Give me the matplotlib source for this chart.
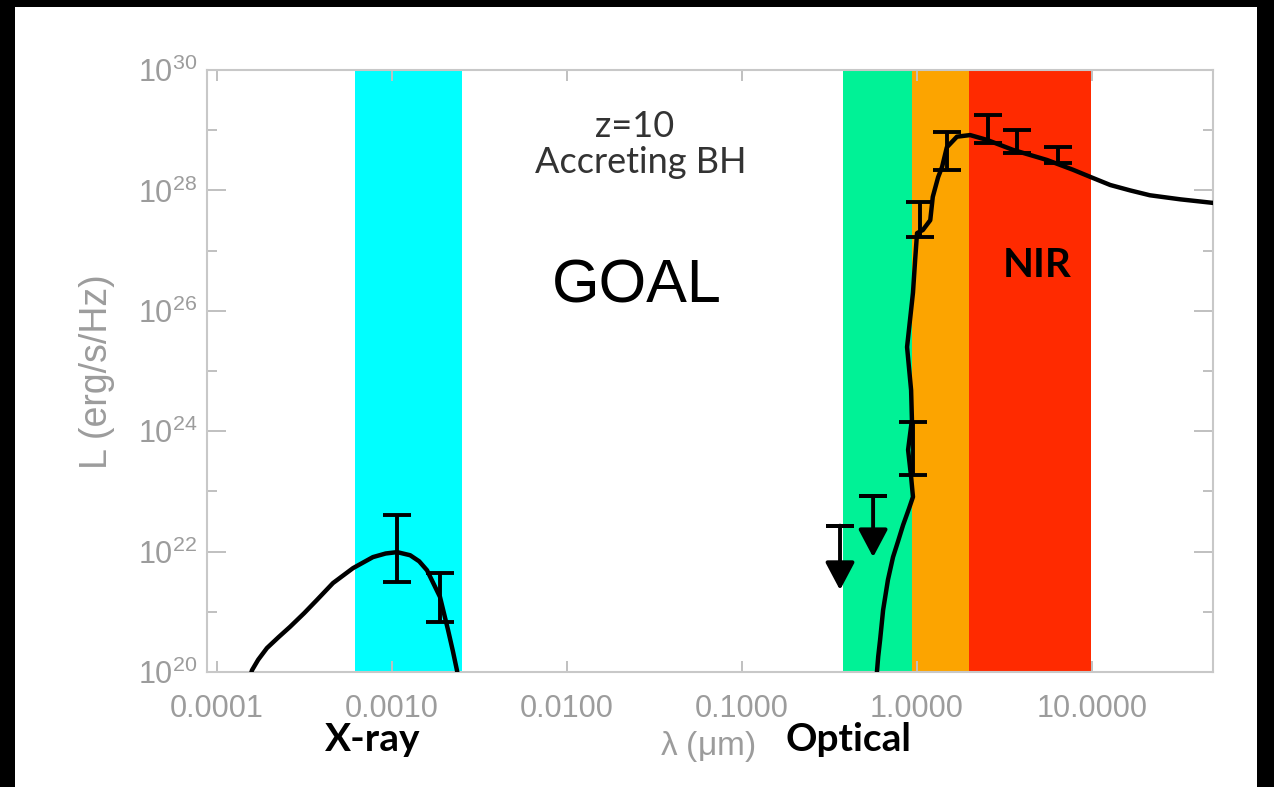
import numpy as np
import matplotlib
matplotlib.use("Agg")
import matplotlib.pyplot as plt
from matplotlib import patches, ticker

plt.rcParams['font.family'] = ['Liberation Sans', 'DejaVu Sans']
plt.rcParams['mathtext.default'] = 'regular'

# bands (wavelength in micron)
band_edges = [(6.15e-4, 2.51e-3), (0.38, 0.935), (0.935, 1.98), (1.98, 9.84)]
band_colors = ['#00ffff', '#00f296', '#fca400', '#ff2a00']

# model SED, X-ray part
xray_wl = [1.55e-4, 1.585e-4, 1.72e-4, 1.93e-4, 2.25e-4, 2.61e-4, 3.15e-4, 3.73e-4,
           4.60e-4, 5.98e-4, 7.78e-4, 9.2e-4, 1.07e-3, 1.27e-3, 1.43e-3, 1.585e-3,
           1.88e-3, 2.09e-3, 2.23e-3, 2.35e-3, 2.38e-3]
xray_L = [8.5e19, 1.07e20, 1.6e20, 2.5e20, 3.8e20, 5.6e20, 9.5e20, 1.58e21,
          3.0e21, 5.3e21, 8.1e21, 9.3e21, 9.8e21, 8.7e21, 6.9e21, 4.9e21,
          1.77e21, 5.0e20, 2.2e20, 1.07e20, 8.5e19]

# model SED, optical / NIR part
opt_wl = [0.585, 0.59, 0.60, 0.615, 0.640, 0.682, 0.729, 0.78, 0.832, 0.90, 0.948, 0.925,
          0.889, 0.935, 0.925, 0.877, 0.912, 0.948, 0.975, 1.0, 1.08, 1.19, 1.23, 1.32,
          1.39, 1.48, 1.69, 2.01, 2.51, 3.54, 5.53, 7.79, 9.9, 12.7, 16.5, 21.4, 32.0,
          49.1, 55.0]
opt_L = [8e19, 1.0e20, 1.8e20, 3.4e20, 1.07e21, 3.4e21, 8.1e21, 1.5e22, 2.75e22,
         5.2e22, 8.1e22, 1.74e23, 4.9e23, 1.55e24, 4.8e24, 2.5e25, 7.1e25, 2.0e26,
         6.9e26, 1.95e27, 2.2e27, 3.2e27, 7.8e27, 1.66e28, 2.45e28, 5.2e28, 7.8e28,
         8.3e28, 6.9e28, 4.7e28, 3.2e28, 2.2e28, 1.65e28, 1.23e28, 1.0e28, 8.3e27,
         7.1e27, 6.2e27, 6.0e27]

# detections: wavelength, lower, upper
det_wl = [1.07e-3, 1.88e-3, 0.948, 1.04, 1.48, 2.55, 3.73, 6.39]
det_lo = [3.1e21, 6.8e20, 1.9e23, 1.7e27, 2.2e28, 6.2e28, 4.2e28, 2.9e28]
det_hi = [4.1e22, 4.4e21, 1.4e24, 6.4e27, 9.3e28, 1.8e29, 1.0e29, 5.2e28]

# upper limits: wavelength, limit, arrow tip
lim_wl = [0.363, 0.561]
lim_L = [2.7e22, 8.4e22]
lim_tip = [2.3e21, 8.1e21]

yticks = [1e20, 1e22, 1e24, 1e26, 1e28, 1e30]
ytick_labels = [r'10$^{20}$', r'10$^{22}$', r'10$^{24}$', r'10$^{26}$', r'10$^{28}$', r'10$^{30}$']
xticks = [1e-4, 1e-3, 1e-2, 1e-1, 1, 10]
xtick_labels = ['0.0001', '0.0010', '0.0100', '0.1000', '1.0000', '10.0000']

W, H = 1274, 787
fig = plt.figure(figsize=(W / 100, H / 100), dpi=100)
ax = fig.add_axes([207 / W, 1 - 672 / H, (1213 - 207) / W, (672 - 70) / H])

for (lo, hi), c in zip(band_edges, band_colors):
    ax.axvspan(lo, hi, color=c, lw=0, zorder=0)

ax.plot(xray_wl, xray_L, color='k', lw=3.2, zorder=3, solid_joinstyle='round')
ax.plot(opt_wl, opt_L, color='k', lw=3.2, zorder=3, solid_joinstyle='round')

det_mid = np.sqrt(np.array(det_lo) * np.array(det_hi))
ax.errorbar(det_wl, det_mid, yerr=[det_mid - np.array(det_lo), np.array(det_hi) - det_mid],
            fmt='none', ecolor='k', elinewidth=2.8, capsize=10, capthick=2.8, zorder=4)

# upper limits: cap + arrow
ax.errorbar(lim_wl, lim_L, yerr=[[0, 0], [0, 0]], fmt='none', ecolor='k',
            capsize=10, capthick=2.8, zorder=4)
for x, top, tip in zip(lim_wl, lim_L, lim_tip):
    ax.annotate('', xy=(x, tip), xytext=(x, top),
                arrowprops=dict(arrowstyle='-|>,head_length=0.85,head_width=0.45',
                                mutation_scale=20, lw=2.8, color='k',
                                shrinkA=0, shrinkB=0), zorder=4)

ax.set_xscale('log')
ax.set_yscale('log')
ax.set_xlim(8.77e-5, 49.1)
ax.set_ylim(1e20, 1e30)

grey = '#9c9c9c'
ax.yaxis.set_major_locator(ticker.FixedLocator(yticks))
ax.yaxis.set_major_formatter(ticker.FixedFormatter(ytick_labels))
ax.yaxis.set_minor_locator(ticker.FixedLocator([1e21, 1e23, 1e25, 1e27, 1e29]))
ax.yaxis.set_minor_formatter(ticker.NullFormatter())
ax.xaxis.set_major_locator(ticker.FixedLocator(xticks))
ax.xaxis.set_major_formatter(ticker.FixedFormatter(xtick_labels))
ax.xaxis.set_minor_locator(ticker.NullLocator())

ax.tick_params(axis='y', which='major', direction='in', length=14, width=1.4,
               color='#c0c0c0', labelcolor=grey, labelsize=22, pad=7, right=True)
ax.tick_params(axis='y', which='minor', direction='in', length=7, width=1.4,
               color='#c0c0c0', right=True)
ax.tick_params(axis='x', which='major', direction='in', length=8, width=1.4,
               color='#c0c0c0', labelcolor=grey, labelsize=22, pad=16, top=True)
for s in ax.spines.values():
    s.set_color('#c8c8c8')
    s.set_linewidth(1.5)

fig.text(97 / W, 1 - 372 / H, 'L (erg/s/Hz)', rotation=90, ha='center', va='center',
         color=grey, fontsize=27)
fig.text(708 / W, 1 - 747 / H, r'λ ($\mu$m)', ha='center', va='center',
         color=grey, fontsize=24)

fig.text(635 / W, 1 - 137 / H, 'z=10', ha='center', va='baseline',
         color='#333333', fontsize=26, family='Lato')
fig.text(641 / W, 1 - 173 / H, 'Accreting BH', ha='center', va='baseline',
         color='#333333', fontsize=26, family='Lato')
fig.text(637 / W, 1 - 303 / H, 'GOAL', ha='center', va='baseline',
         color='black', fontsize=44, family='Liberation Sans')
fig.text(1037 / W, 1 - 277 / H, 'NIR', ha='center', va='baseline',
         color='black', fontsize=29, family='Lato', fontweight='bold')
fig.text(373 / W, 1 - 751 / H, 'X-ray', ha='center', va='baseline',
         color='black', fontsize=28, family='Lato', fontweight='bold')
fig.text(848 / W, 1 - 751 / H, 'Optical', ha='center', va='baseline',
         color='black', fontsize=28, family='Lato', fontweight='bold')

# black frame round the slide
for rect in [(0, 0, 15 / W, 1), (0, 1 - 7 / H, 1, 7 / H), (1 - 17 / W, 0, 17 / W, 1)]:
    fig.add_artist(patches.Rectangle(rect[:2], rect[2], rect[3], transform=fig.transFigure,
                                     color='black', lw=0))

fig.savefig('out.png', dpi=100, facecolor='white')
